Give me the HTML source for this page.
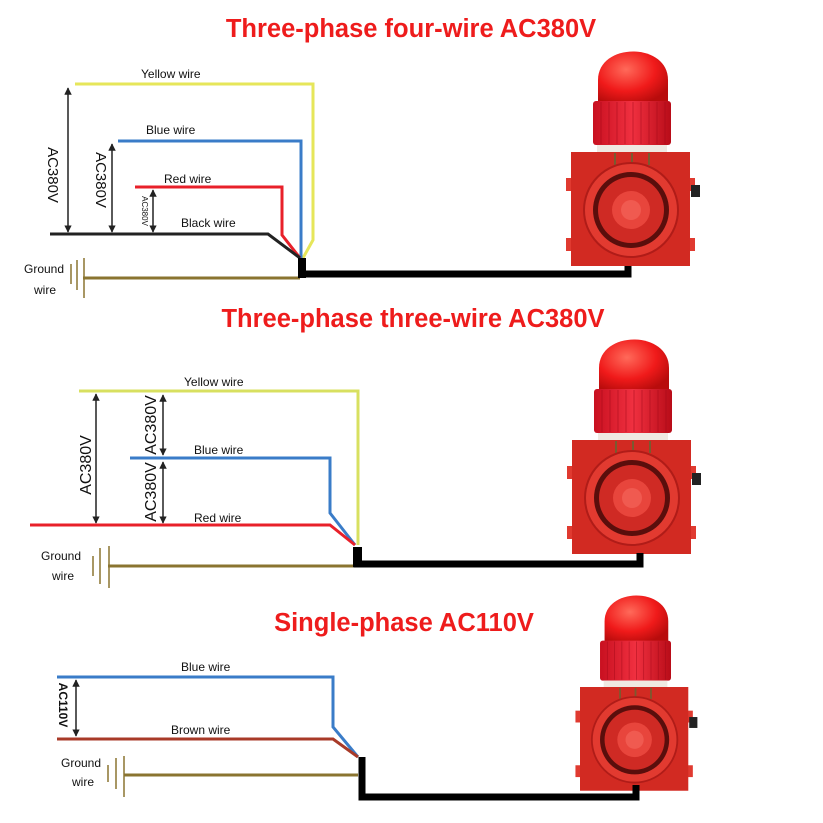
<!DOCTYPE html>
<html><head><meta charset="utf-8"><style>
html,body{margin:0;padding:0;background:#fff;}
svg{display:block;}
text{font-family:"Liberation Sans",Arial,sans-serif;}
.t{font-size:25.5px;font-weight:bold;fill:#ee1c1c;text-anchor:middle;}
.l{font-size:12px;fill:#111;}
</style></head><body>
<svg width="823" height="823" viewBox="0 0 823 823" xmlns="http://www.w3.org/2000/svg">
<defs>
<marker id="a" viewBox="0 0 10 10" refX="9" refY="5" markerWidth="5" markerHeight="5" orient="auto-start-reverse"><path d="M0,0 L10,5 L0,10 z" fill="#222"/></marker>
<radialGradient id="dome" cx="0.4" cy="0.35" r="0.7"><stop offset="0" stop-color="#ff6a5a"/><stop offset="0.6" stop-color="#f01a1a"/><stop offset="1" stop-color="#b80c0c"/></radialGradient>
<linearGradient id="band" x1="0" x2="1"><stop offset="0" stop-color="#c81020"/><stop offset="0.5" stop-color="#f03040"/><stop offset="1" stop-color="#b80c18"/></linearGradient>
<g id="dev">
  <path d="M27,-49 L27,-72 C27,-110 97,-110 97,-72 L97,-49 Z" fill="url(#dome)"/>
  <rect x="22" y="-51" width="78" height="44" rx="3" fill="url(#band)"/>
  <g stroke="#a00818" stroke-width="0.8" opacity="0.6">
    <line x1="30" y1="-50" x2="30" y2="-8"/><line x1="38" y1="-50" x2="38" y2="-8"/><line x1="46" y1="-50" x2="46" y2="-8"/><line x1="54" y1="-50" x2="54" y2="-8"/><line x1="62" y1="-50" x2="62" y2="-8"/><line x1="70" y1="-50" x2="70" y2="-8"/><line x1="78" y1="-50" x2="78" y2="-8"/><line x1="86" y1="-50" x2="86" y2="-8"/><line x1="94" y1="-50" x2="94" y2="-8"/>
  </g>
  <rect x="26" y="-7" width="70" height="7" fill="#efe9e2"/>
  <rect x="-5" y="26" width="7" height="13" fill="#e03a30"/><rect x="-5" y="86" width="7" height="13" fill="#e03a30"/>
  <rect x="117" y="26" width="7" height="13" fill="#e03a30"/><rect x="117" y="86" width="7" height="13" fill="#e03a30"/>
  <rect x="0" y="0" width="119" height="114" fill="#d22a22"/>
  <rect x="120" y="33" width="9" height="12" fill="#222"/>
  <line x1="44" y1="1" x2="44" y2="13" stroke="#7a5a30" stroke-width="2"/><line x1="61" y1="1" x2="61" y2="13" stroke="#7a5a30" stroke-width="2"/><line x1="78" y1="1" x2="78" y2="13" stroke="#7a5a30" stroke-width="2"/>
  <circle cx="60" cy="58" r="47" fill="#e23a30" stroke="#b01c18" stroke-width="2"/>
  <circle cx="60" cy="58" r="38" fill="#5a0e0c"/>
  <circle cx="60" cy="58" r="33" fill="#cf2a24"/>
  <circle cx="60" cy="58" r="19" fill="#e8453c"/>
  <circle cx="60" cy="58" r="10" fill="#f05a50"/>
</g>
</defs>

<text class="t" x="411" y="37">Three-phase four-wire AC380V</text>
<text class="t" x="413" y="327">Three-phase three-wire AC380V</text>
<text class="t" x="404" y="631">Single-phase AC110V</text>

<use href="#dev" transform="translate(571,152)"/>
<g fill="none" stroke-width="3">
  <polyline points="75,84 313,84 313,240 303,258" stroke="#e6e65a"/>
  <polyline points="118,141 301,141 301,258" stroke="#3a7cc8"/>
  <polyline points="135,187 282,187 282,235 300,258" stroke="#e8202a"/>
  <polyline points="50,234 268,234 300,258" stroke="#222"/>
  <line x1="83" y1="278" x2="300" y2="278" stroke="#8a7430"/>
  <polyline points="302,258 302,274 628,274 628,266" stroke="#000" stroke-width="7"/>
</g>
<rect x="298" y="258" width="8" height="20" fill="#000"/>
<g stroke="#8a7430" stroke-width="1.5"><line x1="71" y1="264" x2="71" y2="284"/><line x1="77" y1="260" x2="77" y2="290"/><line x1="84" y1="258" x2="84" y2="298"/></g>
<g stroke="#222" stroke-width="1.5" marker-start="url(#a)" marker-end="url(#a)">
  <line x1="68" y1="88" x2="68" y2="232"/><line x1="112" y1="144" x2="112" y2="232"/><line x1="153" y1="190" x2="153" y2="232"/>
</g>
<text class="l" x="141" y="78">Yellow wire</text>
<text class="l" x="146" y="134">Blue wire</text>
<text class="l" x="164" y="183">Red wire</text>
<text class="l" x="181" y="227">Black wire</text>
<text class="l" x="24" y="273">Ground</text>
<text class="l" x="34" y="294">wire</text>
<text transform="translate(48,175) rotate(90)" style="font-size:15px" text-anchor="middle" fill="#111">AC380V</text>
<text transform="translate(96,180) rotate(90)" style="font-size:15px" text-anchor="middle" fill="#111">AC380V</text>
<text transform="translate(142,211) rotate(90)" style="font-size:8px" text-anchor="middle" fill="#111">AC380V</text>

<use href="#dev" transform="translate(572,440)"/>
<g fill="none" stroke-width="3">
  <polyline points="79,391 358,391 358,545" stroke="#d8e060"/>
  <polyline points="130,458 330,458 330,513 355,545" stroke="#3a7cc8"/>
  <polyline points="30,525 330,525 355,545" stroke="#e8202a"/>
  <line x1="108" y1="566" x2="354" y2="566" stroke="#8a7430"/>
  <polyline points="357,548 357,564 640,564 640,553" stroke="#000" stroke-width="7"/>
</g>
<rect x="353" y="547" width="9" height="20" fill="#000"/>
<g stroke="#8a7430" stroke-width="1.5"><line x1="93" y1="556" x2="93" y2="576"/><line x1="100" y1="548" x2="100" y2="584"/><line x1="109" y1="546" x2="109" y2="588"/></g>
<g stroke="#222" stroke-width="1.5" marker-start="url(#a)" marker-end="url(#a)">
  <line x1="96" y1="394" x2="96" y2="523"/><line x1="163" y1="395" x2="163" y2="455"/><line x1="163" y1="462" x2="163" y2="523"/>
</g>
<text class="l" x="184" y="386">Yellow wire</text>
<text class="l" x="194" y="454">Blue wire</text>
<text class="l" x="194" y="522">Red wire</text>
<text class="l" x="41" y="560">Ground</text>
<text class="l" x="52" y="580">wire</text>
<text transform="translate(91,465) rotate(-90)" style="font-size:16px" text-anchor="middle" fill="#111">AC380V</text>
<text transform="translate(156,425) rotate(-90)" style="font-size:16px" text-anchor="middle" fill="#111">AC380V</text>
<text transform="translate(156,492) rotate(-90)" style="font-size:16px" text-anchor="middle" fill="#111">AC380V</text>

<use href="#dev" transform="translate(580,687) scale(0.91)"/>
<g fill="none" stroke-width="3">
  <polyline points="57,677 333,677 333,727 358,757" stroke="#3a7cc8"/>
  <polyline points="57,739 333,739 358,757" stroke="#a83a28"/>
  <line x1="124" y1="775" x2="358" y2="775" stroke="#8a7430"/>
  <polyline points="362,757 362,797 636,797 636,785" stroke="#000" stroke-width="7"/>
</g>
<g stroke="#8a7430" stroke-width="1.5"><line x1="108" y1="765" x2="108" y2="782"/><line x1="116" y1="758" x2="116" y2="789"/><line x1="124" y1="756" x2="124" y2="797"/></g>
<line x1="76" y1="680" x2="76" y2="736" stroke="#222" stroke-width="1.5" marker-start="url(#a)" marker-end="url(#a)"/>
<text class="l" x="181" y="671">Blue wire</text>
<text class="l" x="171" y="734">Brown wire</text>
<text class="l" x="61" y="767">Ground</text>
<text class="l" x="72" y="786">wire</text>
<text transform="translate(59,705) rotate(90)" style="font-size:12px;font-weight:bold" text-anchor="middle" fill="#111">AC110V</text>
</svg>
</body></html>
